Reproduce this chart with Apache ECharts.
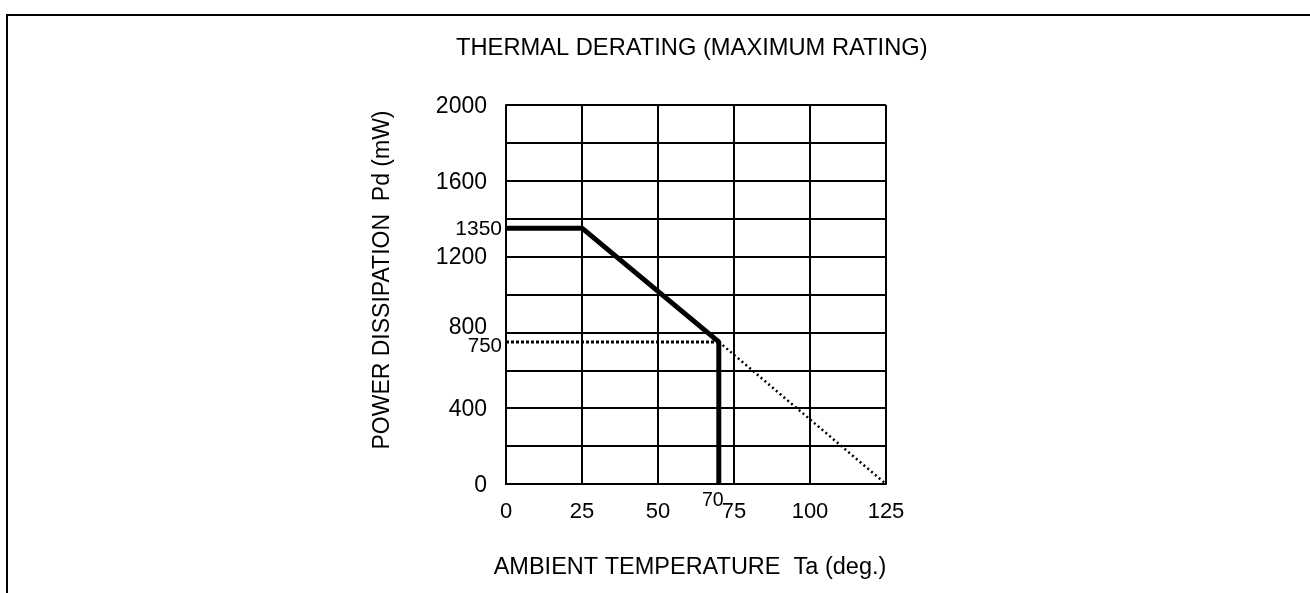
<!DOCTYPE html>
<html>
<head>
<meta charset="utf-8">
<script src="https://cdn.jsdelivr.net/npm/echarts@6/dist/echarts.min.js"></script>
<style>
html,body{margin:0;padding:0;background:#fff;}
#chart{width:1310px;height:593px;}
</style>
</head>
<body>
<div id="chart"></div>
<script>
// ---- data ----
const titleText = 'THERMAL DERATING (MAXIMUM RATING)';
const xName = 'AMBIENT TEMPERATURE  Ta (deg.)';
const yName = 'POWER DISSIPATION  Pd (mW)';
const xTicks = [0, 25, 50, 75, 100, 125];
const yTicks = [0, 400, 800, 1200, 1600, 2000];
const xSpecialTicks = [70];
const ySpecialTicks = [1350, 750];
const deratingTemp = [0, 25, 70, 70];
const deratingPower = [1350, 1350, 750, 0];
const refTemp = [0, 70];
const refPower = [750, 750];
const extTemp = [70, 125];
const extPower = [750, 0];

const FONT = 'Liberation Sans, Arial, sans-serif';
const zip = (a, b) => a.map((v, i) => [v, b[i]]);

const chart = echarts.init(document.getElementById('chart'), null, {renderer: 'canvas'});
const gridBox = {left: 506, right: 424, top: 105, bottom: 109};

chart.setOption({
  animation: false,
  backgroundColor: '#fff',
  title: {
    text: titleText, left: 451, top: 31,
    textStyle: {fontFamily: FONT, fontSize: 23.7, fontWeight: 'normal', color: '#000'}
  },
  graphic: [{
    type: 'rect', shape: {x: 7, y: 15, width: 1320, height: 600},
    style: {fill: 'none', stroke: '#000', lineWidth: 2}, silent: true
  }],
  grid: gridBox,
  xAxis: [{
    type: 'value', min: 0, max: 125, interval: 25,
    axisLine: {show: true, lineStyle: {color: '#000', width: 2}},
    axisTick: {show: false},
    splitLine: {show: true, lineStyle: {color: '#000', width: 2}},
    axisLabel: {customValues: xTicks, color: '#000', fontFamily: FONT, fontSize: 22, margin: 17},
    name: xName, nameLocation: 'middle', nameGap: 72,
    nameTextStyle: {fontFamily: FONT, fontSize: 23.5, color: '#000', padding: [0, 12, 0, 0]}
  }, {
    type: 'value', min: 0, max: 125, position: 'bottom', gridIndex: 0,
    axisLine: {show: false}, axisTick: {show: false}, splitLine: {show: false},
    axisLabel: {
      customValues: xSpecialTicks, color: '#000', fontFamily: FONT, fontSize: 19.5, margin: 7,
      formatter: v => '{l|' + v + '}',
      rich: {l: {fontFamily: FONT, fontSize: 19.5, color: '#000', padding: [0, 12, 0, 0]}}
    }
  }],
  yAxis: [{
    type: 'value', min: 0, max: 2000, interval: 200,
    axisLine: {show: true, lineStyle: {color: '#000', width: 2}},
    axisTick: {show: false},
    splitLine: {show: true, lineStyle: {color: '#000', width: 2}},
    axisLabel: {
      customValues: yTicks, color: '#000', fontFamily: FONT, fontSize: 23, margin: 19,
      formatter: v => v === 800 ? '{up|800}' : '{n|' + v + '}',
      rich: {
        up: {fontFamily: FONT, fontSize: 23, color: '#000', padding: [0, 0, 10, 0]},
        n: {fontFamily: FONT, fontSize: 23, color: '#000', padding: [3, 0, 0, 0]}
      }
    },
    name: yName, nameLocation: 'middle', nameGap: 112, nameRotate: 90,
    nameTextStyle: {fontFamily: FONT, fontSize: 23, color: '#000', padding: [0, 0, 0, 29]}
  }, {
    type: 'value', min: 0, max: 2000, position: 'left',
    axisLine: {show: false}, axisTick: {show: false}, splitLine: {show: false},
    axisLabel: {
      customValues: ySpecialTicks, color: '#000', fontFamily: FONT, fontSize: 21, margin: 4,
      formatter: v => v === 750 ? '{dn|750}' : '{n|' + v + '}',
      rich: {
        dn: {fontFamily: FONT, fontSize: 20.5, color: '#000', padding: [9, 0, 0, 0]},
        n: {fontFamily: FONT, fontSize: 21, color: '#000', padding: [2, 0, 0, 0]}
      }
    }
  }],
  series: [{
    type: 'line', data: zip(deratingTemp, deratingPower), showSymbol: false, z: 5,
    lineStyle: {color: '#000', width: 5}
  }, {
    type: 'line', data: zip(refTemp, refPower), showSymbol: false, z: 4,
    lineStyle: {color: '#000', width: 3, type: [3, 2]}
  }, {
    type: 'line', data: zip(extTemp, extPower), showSymbol: false, z: 4,
    lineStyle: {color: '#000', width: 2.5, type: [2, 3]}
  }]
});
</script>
</body>
</html>
